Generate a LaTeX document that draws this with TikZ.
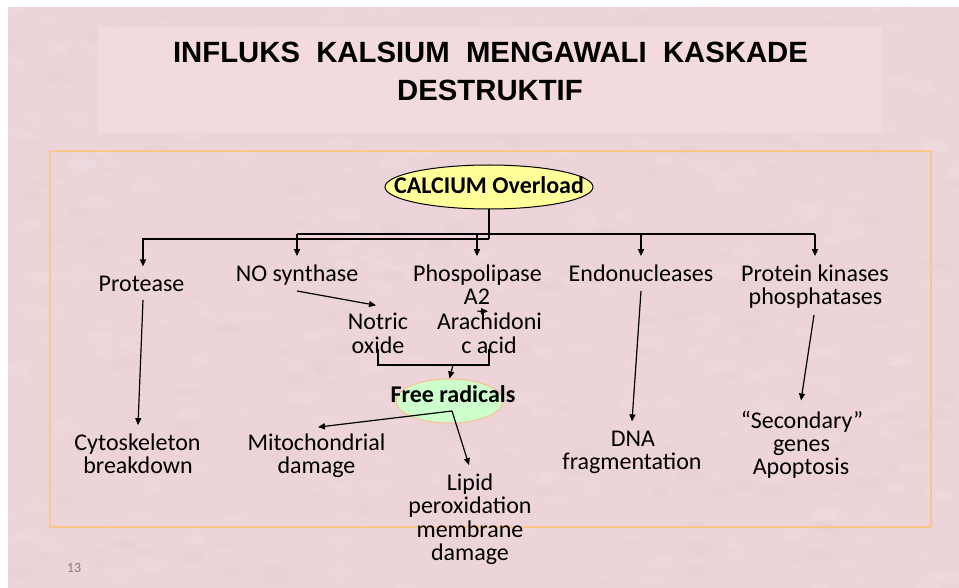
\documentclass[tikz,border=0pt]{standalone}
\usepackage{fontspec}
\setmainfont{Carlito}
\newfontfamily\headfont{Liberation Sans}
\usetikzlibrary{arrows.meta,calc,shapes.geometric}

\definecolor{slidebg}{RGB}{236,212,216}
\definecolor{titlebg}{RGB}{243,219,221}
\definecolor{framecol}{RGB}{250,198,142}
\definecolor{calfill}{RGB}{255,255,153}
\definecolor{radfill}{RGB}{204,255,204}
\definecolor{radedge}{RGB}{250,192,144}
\definecolor{pagenum}{RGB}{128,128,128}

\begin{document}
\begin{tikzpicture}[x=1pt,y=-1pt,
  lbl/.style={anchor=base,inner sep=0pt,font=\fontsize{24}{23}\selectfont},
  boldlbl/.style={lbl,font=\fontsize{24}{23}\selectfont\bfseries},
  headline/.style={anchor=base,inner sep=0pt,font=\headfont\bfseries\fontsize{29.3}{34}\selectfont},
  conn/.style={line width=1.2pt,-{Triangle[length=7pt,width=6pt]}},
  wire/.style={line width=1.2pt},
]
\useasboundingbox (0,0) rectangle (959,588);
\fill[white] (0,0) rectangle (959,588);
\fill[slidebg] (8,7) rectangle (959,588);

% fine parchment mottling of the slide background
\pgfmathsetseed{11}
\begin{scope}
  \clip (8,7) rectangle (959,588);
  \foreach \k in {1,...,520}{
    \pgfmathsetmacro{\px}{8+951*rnd}
    \pgfmathsetmacro{\py}{7+581*rnd}
    \pgfmathsetmacro{\pr}{2+5*rnd}
    \pgfmathsetmacro{\pc}{rnd}
    \ifdim\pc pt<0.5pt
      \fill[white,opacity=0.09] (\px,\py) ellipse ({2.2*\pr} and \pr);
    \else
      \fill[slidebg!88!black,opacity=0.05] (\px,\py) ellipse ({2.2*\pr} and \pr);
    \fi
  }
\end{scope}

% title panel
\fill[titlebg] (98,27) rectangle (882,133);
\node[headline] (head1) at (490.5,63) {INFLUKS~~KALSIUM~~MENGAWALI~~KASKADE};
\node[headline] (head2) at (490,101) {DESTRUKTIF};

% content frame
\draw[framecol,line width=1.6pt] (50,151) rectangle (931,527);

% central ellipse
\node[ellipse,draw=black,line width=1pt,fill=calfill,minimum width=208pt,minimum height=44pt,inner sep=0pt] (calov) at (489,187) {};
\node[boldlbl,anchor=center] (caltext) at (489,185) {CALCIUM Overload};

% first-level enzymes
\node[lbl] (prot) at (141.5,291) {Protease};
\node[lbl] (nos) at (297,282) {NO synthase};
\node[lbl] (phos) at (477.5,282) {Phospolipase};
\node[lbl] (phosb) at (477,305) {A2};
\node[lbl] (endo) at (641,282) {Endonucleases};
\node[lbl] (kin) at (815,282) {Protein kinases};
\node[lbl] (kinb) at (815.5,305) {phosphatases};

% intermediates
\node[lbl] (no) at (378,330) {Notric};
\node[lbl] (nob) at (378,353) {oxide};
\node[lbl] (ara) at (489.5,330) {Arachidoni};
\node[lbl] (arab) at (489,353) {c acid};

% free radicals
\node[ellipse,draw=radedge,line width=1pt,fill=radfill,minimum width=107pt,minimum height=44pt,inner sep=0pt] (frad) at (449.5,401) {};
\node[boldlbl] (fradtext) at (453,402) {Free radicals};

% outcomes
\node[lbl] (cyto) at (137.5,450) {Cytoskeleton};
\node[lbl] (cytob) at (138,473) {breakdown};
\node[lbl] (mito) at (316.5,450) {Mitochondrial};
\node[lbl] (mitob) at (316.5,473) {damage};
\node[lbl] (lip) at (470,490) {Lipid};
\node[lbl] (lipb) at (470,513) {peroxidation};
\node[lbl] (lipc) at (470,537) {membrane};
\node[lbl] (lipd) at (470,560) {damage};
\node[lbl] (dna) at (633,446) {DNA};
\node[lbl] (dnab) at (632,469) {fragmentation};
\node[lbl] (sec) at (802,428) {“Secondary”};
\node[lbl] (secb) at (801.5,451) {genes};
\node[lbl] (secc) at (801,474) {Apoptosis};

\node[anchor=base,inner sep=0pt,text=pagenum,font=\fontsize{14}{16}\selectfont] (pgno) at (74,572) {13};

% distribution from the calcium node
\coordinate (busL) at (297,234);
\coordinate (busR) at (815,234);
\draw[wire] (calov.south) -- (489,239);
\draw[conn] (489,239) -| ($(prot.north)+(1.5,-9)$);
\draw[wire] (busL) -- (busR);
\draw[conn] (busL) -- ($(nos.north)+(0,-9)$);
\draw[conn] (477,234) -- ($(phos.north)+(-0.5,-9)$);
\draw[conn] (641,234) -- ($(endo.north)+(0,-9)$);
\draw[conn] (busR) -- ($(kin.north)+(0,-9)$);

% NO synthase and phospholipase products
\draw[conn] ($(nos.base)+(0,9)$) -- ($(no.north)+(-2,-8)$);
\draw[conn] ($(ara.north)+(-12.5,-2)$) -- ($(phosb.south)+(11,6)$);

% both products feed the free radicals
\coordinate (brk) at (453,365);
\draw[wire] ($(nob.base)+(0,-4)$) -- (378,365) -- (489,365) -- ($(arab.base)+(0,-4)$);
\draw[conn] (brk) -- (frad.north);

% damage paths
\coordinate (fr) at (452,411);
\draw[conn] (fr) -- ($(mito.north)+(1.5,-6)$);
\draw[conn] (fr) -- ($(lip.north)+(-1,-8)$);
\draw[conn] ($(prot.base)+(1.5,9)$) -- ($(cyto.north)+(0.5,-8)$);
\draw[conn] ($(endo.base)+(0,9)$) -- ($(dna.north)+(-1,-9)$);
\draw[conn] ($(kinb.base)+(-1.5,10)$) -- ($(sec.north)+(-1,-10)$);
\end{tikzpicture}
\end{document}
